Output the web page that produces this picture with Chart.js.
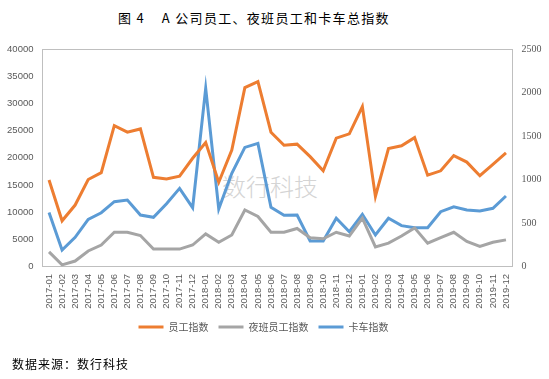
<!DOCTYPE html>
<html><head><meta charset="utf-8">
<script src="https://cdn.jsdelivr.net/npm/chart.js@4/dist/chart.umd.min.js"></script>
<style>
html,body{margin:0;padding:0;background:#fff;}
#wrap{position:relative;width:549px;height:379px;overflow:hidden;}
#title{position:absolute;left:118px;top:8px;font-family:"Noto Sans CJK SC";font-size:13px;letter-spacing:1.3px;color:#000;white-space:pre;}
#src{position:absolute;left:12px;top:355px;font-family:"Noto Sans CJK SC";font-size:12px;letter-spacing:1px;color:#000;white-space:pre;}
#wm{position:absolute;left:222px;top:168px;font-family:"Noto Sans CJK SC";font-weight:300;font-size:24px;color:#d4d4d4;white-space:pre;}
canvas{position:absolute;left:0;top:0;}
</style></head>
<body><div id="wrap">
<div id="title">图 4    A 公司员工、夜班员工和卡车总指数</div>
<div id="wm">数行科技</div>
<canvas id="c" width="549" height="379"></canvas>
<div id="src">数据来源：数行科技</div>
</div>
<script>
const categories = ["2017-01","2017-02","2017-03","2017-04","2017-05","2017-06","2017-07","2017-08","2017-09","2017-10","2017-11","2017-12",
"2018-01","2018-02","2018-03","2018-04","2018-05","2018-06","2018-07","2018-08","2018-09","2018-10","2018-11","2018-12",
"2019-01","2019-02","2019-03","2019-04","2019-05","2019-06","2019-07","2019-08","2019-09","2019-10","2019-11","2019-12"];
const staffIndex = [15900,8400,11300,16000,17250,25900,24700,25300,16400,16100,16600,19900,22800,15500,21400,32900,34000,24700,22300,22500,20200,17600,23600,24400,29400,12900,21700,22200,23700,16800,17600,20400,19200,16700,18800,20900];
const nightStaffIndex = [2700,300,1000,2850,3950,6300,6300,5700,3200,3200,3200,3950,6000,4450,5800,10400,9200,6300,6300,7000,5300,5100,6300,5600,8900,3600,4300,5600,7100,4300,5300,6300,4600,3700,4450,4900];
const truckIndex = [620,190,335,542,618,745,764,592,565,722,898,676,2047,661,1071,1369,1415,680,590,592,293,293,554,400,600,362,554,470,446,446,630,687,649,638,669,810];
const leftTicks = [0,5000,10000,15000,20000,25000,30000,35000,40000];
const rightTicks = [0,500,1000,1500,2000,2500];
const seriesNames = ["员工指数","夜班员工指数","卡车指数"];

const tickFont = {family:"Liberation Sans", size:9.5};
const tickColor = "#595959";
const borderColor = "#BFBFBF";

const shiftLegend = {
  id:'shiftLegend',
  afterLayout(chart){ if(chart.legend){ chart.legend.left -= 11; chart.legend.right -= 11; } }
};

new Chart(document.getElementById('c'), {
  type:'line',
  data:{
    labels:categories,
    datasets:[
      {label:seriesNames[0], data:staffIndex, borderColor:'#ED7D31', backgroundColor:'#ED7D31', borderWidth:3, pointRadius:0, yAxisID:'y', tension:0},
      {label:seriesNames[1], data:nightStaffIndex, borderColor:'#A5A5A5', backgroundColor:'#A5A5A5', borderWidth:3, pointRadius:0, yAxisID:'y', tension:0},
      {label:seriesNames[2], data:truckIndex, borderColor:'#5B9BD5', backgroundColor:'#5B9BD5', borderWidth:3, pointRadius:0, yAxisID:'y1', tension:0}
    ]
  },
  plugins:[shiftLegend],
  options:{
    responsive:false, animation:false,
    layout:{padding:{top:49,left:0,right:0,bottom:37}},
    plugins:{
      title:{display:false}, tooltip:{enabled:false},
      legend:{position:'bottom', labels:{usePointStyle:true, pointStyle:'line', pointStyleWidth:25, boxHeight:10, padding:10, color:tickColor, font:{family:"Noto Sans CJK SC", size:10}}}
    },
    scales:{
      x:{type:'category', offset:true, grid:{display:false, drawTicks:false}, border:{display:true,color:borderColor,width:1},
         ticks:{autoSkip:false, minRotation:90, maxRotation:90, padding:7.5, color:tickColor, font:tickFont},
         afterFit:s=>{s.height=45.5;}},
      xTop:{type:'category', position:'top', offset:true, grid:{display:false, drawTicks:false}, border:{display:true,color:borderColor,width:1},
         ticks:{display:false}, afterFit:s=>{s.height=0;}},
      y:{position:'left', min:0, max:40000, afterBuildTicks:s=>{s.ticks=leftTicks.map(v=>({value:v}));},
         grid:{display:false, drawTicks:false}, border:{display:true,color:borderColor,width:1},
         ticks:{padding:9, color:tickColor, font:tickFont, callback:v=>String(v)}, afterFit:s=>{s.width=42.5;}},
      y1:{position:'right', min:0, max:2500, afterBuildTicks:s=>{s.ticks=rightTicks.map(v=>({value:v}));},
         grid:{display:false, drawTicks:false}, border:{display:true,color:borderColor,width:1},
         ticks:{padding:9, color:tickColor, font:{family:"Liberation Serif", size:10}, callback:v=>String(v)}, afterFit:s=>{s.width=36.5;}}
    }
  }
});
</script>
</body></html>
